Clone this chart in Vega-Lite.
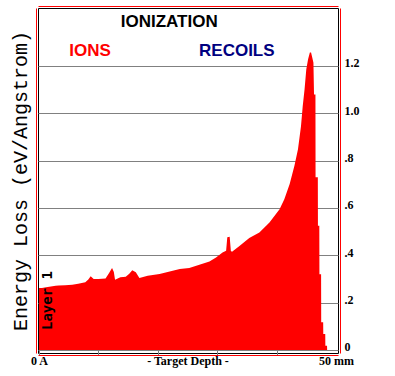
{
  "$schema": "https://vega.github.io/schema/vega-lite/v6.json",
  "width": 300,
  "height": 345,
  "autosize": "none",
  "padding": {"left": 38, "top": 8, "right": 57, "bottom": 23},
  "background": "white",
  "config": {"view": {"stroke": "black", "strokeWidth": 1}},
  "datasets": {
    "profile": [
      {"depth": 0, "loss": 0.262}, {"depth": 0.5, "loss": 0.262}, {"depth": 1.2, "loss": 0.265},
      {"depth": 2.0, "loss": 0.268}, {"depth": 2.8, "loss": 0.271}, {"depth": 3.3, "loss": 0.273},
      {"depth": 4.4, "loss": 0.274}, {"depth": 5.6, "loss": 0.276}, {"depth": 6.6, "loss": 0.28},
      {"depth": 7.8, "loss": 0.286}, {"depth": 8.3, "loss": 0.298}, {"depth": 8.7, "loss": 0.312},
      {"depth": 9.2, "loss": 0.3}, {"depth": 10.0, "loss": 0.3}, {"depth": 11.2, "loss": 0.302},
      {"depth": 11.8, "loss": 0.325}, {"depth": 12.3, "loss": 0.346}, {"depth": 12.6, "loss": 0.33},
      {"depth": 12.8, "loss": 0.297}, {"depth": 13.7, "loss": 0.307}, {"depth": 14.6, "loss": 0.309},
      {"depth": 15.2, "loss": 0.322}, {"depth": 15.7, "loss": 0.337}, {"depth": 16.3, "loss": 0.328},
      {"depth": 16.9, "loss": 0.304}, {"depth": 18.3, "loss": 0.314}, {"depth": 20.3, "loss": 0.321},
      {"depth": 22.0, "loss": 0.332}, {"depth": 23.7, "loss": 0.342}, {"depth": 25.3, "loss": 0.347},
      {"depth": 27.0, "loss": 0.36}, {"depth": 28.7, "loss": 0.374}, {"depth": 29.8, "loss": 0.391},
      {"depth": 30.9, "loss": 0.412}, {"depth": 31.5, "loss": 0.419}, {"depth": 31.7, "loss": 0.476},
      {"depth": 32.1, "loss": 0.478}, {"depth": 32.3, "loss": 0.418}, {"depth": 32.5, "loss": 0.415},
      {"depth": 33.8, "loss": 0.44}, {"depth": 35.4, "loss": 0.473}, {"depth": 37.1, "loss": 0.497},
      {"depth": 38.8, "loss": 0.539}, {"depth": 40.5, "loss": 0.595}, {"depth": 41.3, "loss": 0.637},
      {"depth": 42.2, "loss": 0.701}, {"depth": 43.0, "loss": 0.778}, {"depth": 43.6, "loss": 0.848},
      {"depth": 44.1, "loss": 0.944}, {"depth": 44.4, "loss": 1.031}, {"depth": 44.7, "loss": 1.1},
      {"depth": 45.0, "loss": 1.186}, {"depth": 45.3, "loss": 1.228}, {"depth": 45.6, "loss": 1.257},
      {"depth": 45.8, "loss": 1.257}, {"depth": 46.0, "loss": 1.236}, {"depth": 46.2, "loss": 1.214},
      {"depth": 46.3, "loss": 1.08}, {"depth": 46.54, "loss": 1.08}, {"depth": 46.56, "loss": 0.73},
      {"depth": 46.94, "loss": 0.73}, {"depth": 46.96, "loss": 0.525}, {"depth": 47.19, "loss": 0.525},
      {"depth": 47.21, "loss": 0.32}, {"depth": 47.49, "loss": 0.32}, {"depth": 47.51, "loss": 0.117},
      {"depth": 47.84, "loss": 0.117}, {"depth": 47.86, "loss": 0.068}, {"depth": 48.19, "loss": 0.068},
      {"depth": 48.21, "loss": 0.018}, {"depth": 48.49, "loss": 0.018}, {"depth": 48.51, "loss": 0}
    ],
    "headings": [
      {"depth": 21.92, "loss": 1.385, "label": "IONIZATION"},
      {"depth": 8.59, "loss": 1.265, "label": "IONS"},
      {"depth": 33.3, "loss": 1.265, "label": "RECOILS"}
    ],
    "layerlabel": [
      {"depth": 1.53, "loss": 0.209, "label": "Layer 1"}
    ]
  },
  "resolve": {"axis": {"x": "independent", "y": "independent"}},
  "layer": [
    {
      "data": {"name": "profile"},
      "mark": {"type": "area", "color": "#ff0000", "interpolate": "linear"},
      "encoding": {
        "x": {
          "field": "depth", "type": "quantitative",
          "scale": {"domain": [-0.1684, 50.3367], "nice": false, "zero": false},
          "axis": {
            "orient": "bottom", "offset": 2, "title": null, "grid": false,
            "values": [0, 10, 20, 25, 30, 40, 50],
            "labelExpr": "datum.value == 0 ? '0 A' : datum.value == 25 ? '- Target Depth -' : datum.value == 50 ? '50 mm' : ''",
            "domainColor": "#ff0000", "domainWidth": 1,
            "tickColor": "#808080", "tickSize": -10, "tickWidth": 1,
            "tickOpacity": {"condition": {"test": "datum.value == 25 || datum.value == 50", "value": 0}, "value": 1},
            "labelFont": "Liberation Serif", "labelFontWeight": "bold", "labelFontSize": 12, "labelColor": "black",
            "labelPadding": 10, "labelOverlap": false, "labelFlush": false, "labelBound": false
          }
        },
        "y": {
          "field": "loss", "type": "quantitative",
          "scale": {"domain": [-0.01268, 1.44507], "nice": false, "zero": false},
          "axis": {
            "orient": "right", "offset": 2, "title": null,
            "values": [0, 0.2, 0.4, 0.6, 0.8, 1, 1.2],
            "labelExpr": "datum.value == 0 ? '0' : datum.value < 1 ? '.' + format(datum.value * 10, 'd') : format(datum.value, '.1f')",
            "domainColor": "#ff0000", "ticks": false,
            "grid": true, "gridColor": "#808080", "gridWidth": 1, "gridOpacity": 1,
            "labelFont": "Liberation Serif", "labelFontWeight": "bold", "labelFontSize": 12, "labelColor": "black",
            "labelPadding": 4, "labelBaseline": "middle", "labelOffset": -3, "labelOverlap": false, "labelFlush": false, "labelBound": false
          }
        },
        "y2": {"datum": 0}
      }
    },
    {
      "data": {"name": "headings"},
      "mark": {"type": "text", "font": "Liberation Sans", "fontWeight": "bold", "fontSize": 17, "baseline": "middle", "align": "center"},
      "encoding": {
        "x": {
          "field": "depth", "type": "quantitative",
          "scale": {"domain": [-0.1684, 50.3367], "nice": false, "zero": false},
          "axis": {"orient": "top", "offset": 2, "title": null, "labels": false, "ticks": false, "grid": false, "domainColor": "#ff0000"}
        },
        "y": {
          "field": "loss", "type": "quantitative",
          "scale": {"domain": [-0.01268, 1.44507], "nice": false, "zero": false},
          "axis": {
            "orient": "left", "offset": 2, "labels": false, "ticks": false, "grid": false, "domainColor": "#ff0000",
            "title": "Energy Loss (eV/Angstrom)",
            "titleFont": "Liberation Mono", "titleFontSize": 20, "titleFontWeight": "normal", "titleColor": "black", "titlePadding": 6
          }
        },
        "text": {"field": "label"},
        "color": {
          "field": "label", "type": "nominal", "legend": null,
          "scale": {"domain": ["IONIZATION", "IONS", "RECOILS"], "range": ["#000000", "#ff0000", "#000080"]}
        }
      }
    },
    {
      "data": {"name": "layerlabel"},
      "mark": {"type": "text", "font": "DejaVu Sans Mono", "fontWeight": "bold", "fontSize": 14, "angle": 270, "baseline": "middle", "align": "center", "color": "black"},
      "encoding": {
        "x": {"field": "depth", "type": "quantitative", "axis": null, "scale": {"domain": [-0.1684, 50.3367], "nice": false, "zero": false}},
        "y": {"field": "loss", "type": "quantitative", "axis": null, "scale": {"domain": [-0.01268, 1.44507], "nice": false, "zero": false}},
        "text": {"field": "label"}
      }
    }
  ]
}
